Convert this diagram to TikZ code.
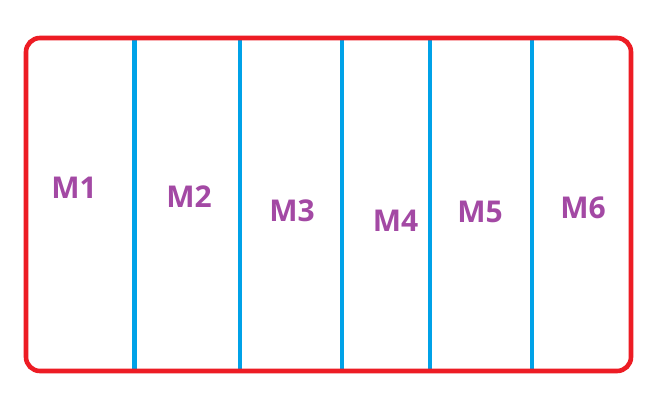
\documentclass[tikz,border=0pt]{standalone}
\usepackage{fontspec}
\setmainfont{Open Sans}
\definecolor{frame}{HTML}{ED1C24}
\definecolor{divider}{HTML}{00A2E8}
\definecolor{label}{HTML}{A349A4}
\begin{document}
\begin{tikzpicture}[x=1pt,y=-1pt,
  framebox/.style={draw=frame,line width=4.6pt,rounded corners=14pt},
  divline/.style={draw=divider,line width=4.6pt},
  mlabel/.style={text=label,font=\fontsize{30}{30}\selectfont\bfseries,inner sep=0pt,text height=21.5pt,text depth=0pt,anchor=center}]
\useasboundingbox (0,0) rectangle (659,408);
\fill[white] (0,0) rectangle (659,408);
\foreach \x in {134.5,240,342,430,532} {
  \draw[divline] (\x,38) -- (\x,371);
}
\draw[framebox] (26,38) rectangle (631,371);
\node[mlabel] (m1) at (74,187.5) {M1};
\node[mlabel] (m2) at (189,197) {M2};
\node[mlabel] (m3) at (292,211) {M3};
\node[mlabel] (m4) at (395.5,221) {M4};
\node[mlabel] (m5) at (480,211.5) {M5};
\node[mlabel] (m6) at (583,208) {M6};
\end{tikzpicture}
\end{document}
